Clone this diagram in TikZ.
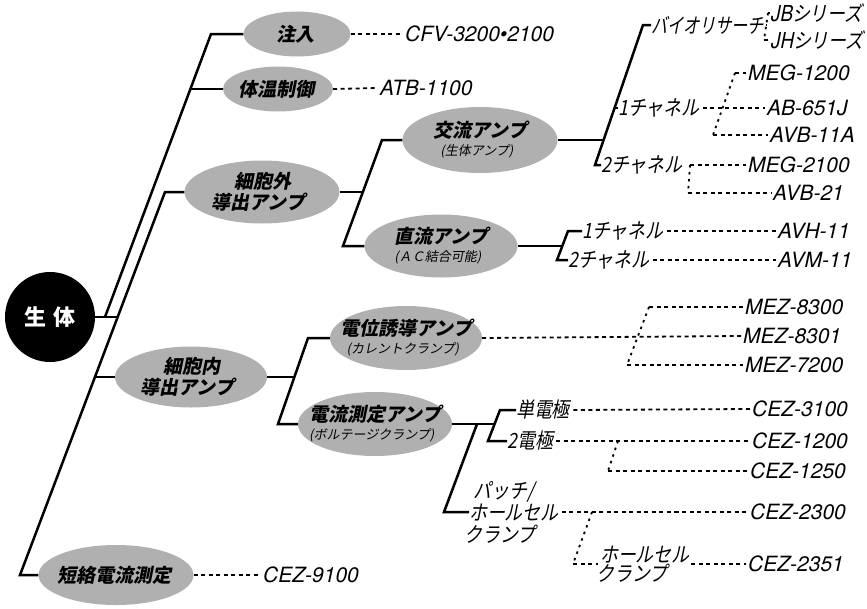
\documentclass[tikz,border=0pt]{standalone}
\usepackage{fontspec}
\setmainfont{TeX Gyre Heros}
\newfontfamily\jp{Noto Sans CJK JP}
\usetikzlibrary{shapes.geometric}
\definecolor{tone}{gray}{0.69}
\tikzset{
    oval/.style={ellipse, fill=tone, inner sep=0pt},
    ovaltext/.style={align=center, inner sep=0pt, xslant=0.2, font=\jp\bfseries\fontsize{19}{21}\selectfont},
    model/.style={anchor=west, inner sep=2pt, font=\itshape\fontsize{21}{24}\selectfont},
    kana/.style={anchor=west, inner sep=2pt, align=left, xslant=0.2, xscale=0.85, font=\jp\fontsize{21}{22}\selectfont},
    tree/.style={line width=2.5pt},
    dots/.style={line width=1.8pt, dash pattern=on 4pt off 3.5pt},
    sparse/.style={line width=1.8pt, dash pattern=on 2.5pt off 4.5pt},
}
\newcommand{\subline}[1]{\\[-3pt]{\mdseries\fontsize{13}{14}\selectfont #1}}

\begin{document}
\begin{tikzpicture}[x=1pt,y=-1pt]
    \useasboundingbox (0,0) rectangle (867,608);

    \node [circle, fill=black, minimum size=90pt, inner sep=0pt, text=white,
        font=\jp\bfseries\fontsize{22}{24}\selectfont] (body) at (50,317) {生\hspace{7pt}体};

    \node [oval, minimum width=107pt, minimum height=45pt] (inj) at (297,34) {};
    \node [oval, minimum width=110pt, minimum height=45pt] (temp) at (278,89) {};
    \node [oval, minimum width=155pt, minimum height=63pt] (extra) at (262,192) {};
    \node [oval, minimum width=152pt, minimum height=61pt] (intra) at (191,377) {};
    \node [oval, minimum width=155pt, minimum height=60pt] (short) at (116,575) {};
    \node [oval, minimum width=155pt, minimum height=66pt] (ac) at (480,140) {};
    \node [oval, minimum width=153pt, minimum height=63pt] (dc) at (441,246) {};
    \node [oval, minimum width=152pt, minimum height=64pt] (cc) at (406,338) {};
    \node [oval, minimum width=154pt, minimum height=64pt] (vc) at (375,424) {};

    \node [ovaltext] (inj-t) at (inj) {注入};
    \node [ovaltext] (temp-t) at (temp) {体温制御};
    \node [ovaltext] (extra-t) at (extra) {細胞外\\導出アンプ};
    \node [ovaltext] (intra-t) at (intra) {細胞内\\導出アンプ};
    \node [ovaltext] (short-t) at (short) {短絡電流測定};
    \node [ovaltext] (ac-t) at (ac) {交流アンプ\subline{(生体アンプ)}};
    \node [ovaltext] (dc-t) at (dc) {直流アンプ\subline{(ＡＣ結合可能)}};
    \node [ovaltext] (cc-t) at (cc) {電位誘導アンプ\subline{(カレントクランプ)}};
    \node [ovaltext] (vc-t) at (vc) {電流測定アンプ\subline{(ボルテージクランプ)}};

    \node [kana, xscale=0.9] (bio) at (651,25) {バイオリサーチ};
    \node [kana] (acone) at (618,108) {1チャネル};
    \node [kana] (actwo) at (601,165) {2チャネル};
    \node [kana] (dcone) at (582,231) {1チャネル};
    \node [kana] (dctwo) at (568,260) {2チャネル};
    \node [kana] (single) at (516,410) {単電極};
    \node [kana] (two) at (507,441) {2電極};
    \node [kana] (patch) at (469,512) {パッチ/\\ホールセル\\クランプ};
    \node [kana, font=\jp\fontsize{21}{18}\selectfont] (hc) at (598,564) {ホールセル\\クランプ};

    \node [model] (cfv) at (403,34) {CFV-3200•2100};
    \node [model] (atb) at (378,88) {ATB-1100};
    \node [kana] (jb) at (770,13) {{\rmfamily\fontsize{22}{22}\selectfont JB}シリーズ};
    \node [kana] (jh) at (770,40) {{\rmfamily\fontsize{22}{22}\selectfont JH}シリーズ};
    \node [model] (meg12) at (746,73) {MEG-1200};
    \node [model] (ab) at (765,108) {AB-651J};
    \node [model] (avb11a) at (768,135) {AVB-11A};
    \node [model] (meg21) at (746,165) {MEG-2100};
    \node [model] (avb21) at (771,193) {AVB-21};
    \node [model] (avh) at (776,231) {AVH-11};
    \node [model] (avm) at (776,260) {AVM-11};
    \node [model] (mez8300) at (743,307) {MEZ-8300};
    \node [model] (mez8301) at (741,336) {MEZ-8301};
    \node [model] (mez7200) at (743,365) {MEZ-7200};
    \node [model] (cez3100) at (750,409) {CEZ-3100};
    \node [model] (cez1200) at (750,441) {CEZ-1200};
    \node [model] (cez1250) at (748,471) {CEZ-1250};
    \node [model] (cez2300) at (748,512) {CEZ-2300};
    \node [model] (cez2351) at (746,564) {CEZ-2351};
    \node [model] (cez9100) at (261,575) {CEZ-9100};

    \coordinate (a1) at (211,34);
    \coordinate (a2) at (105,317);
    \coordinate (a3) at (190,89);
    \coordinate (b1) at (165,192);
    \coordinate (b2) at (20,575);
    \coordinate (b3) at (118,317);
    \coordinate (b4) at (95,377);
    \coordinate (c1) at (382,140);
    \coordinate (c2) at (343,246);
    \coordinate (c3) at (363,192);
    \coordinate (d1) at (308,338);
    \coordinate (d2) at (278,424);
    \coordinate (d3) at (294,377);
    \coordinate (f1) at (643,25);
    \coordinate (f2) at (595,165);
    \coordinate (f3) at (604,140);
    \coordinate (f4) at (614,108);
    \coordinate (g1) at (568,231);
    \coordinate (g2) at (557,260);
    \coordinate (g3) at (562,246);
    \coordinate (h1) at (500,410);
    \coordinate (h2) at (488,441);
    \coordinate (h3) at (495,424);
    \coordinate (e1) at (477,424);
    \coordinate (e2) at (444,512);

    \draw [tree] (inj.west) -- (a1) -- (a2);
    \draw [tree] (temp.west) -- (a3);
    \draw [tree] (body.east) -- (b3);
    \draw [tree] (extra.west) -- (b1) -- (b2) -- (short.west);
    \draw [tree] (intra.west) -- (b4);
    \draw [tree] (ac.west) -- (c1) -- (c2) -- (dc.west);
    \draw [tree] (extra.east) -- (c3);
    \draw [tree] (cc.west) -- (d1) -- (d2) -- (vc.west);
    \draw [tree] (intra.east) -- (d3);
    \draw [tree] (bio.west) -- (f1) -- (f2) -- (actwo.west);
    \draw [tree] (ac.east) -- (f3);
    \draw [tree] (f4) -- (acone.west);
    \draw [tree] (dcone.west) -- (g1) -- (g2) -- (dctwo.west);
    \draw [tree] (dc.east) -- (g3);
    \draw [tree] (single.west) -- (h1) -- (h2) -- (two.west);
    \draw [tree] (vc.east) -- (h3);
    \draw [tree] (e1) -- (e2) -- (patch.west);

    \coordinate (q0) at (766,25);
    \coordinate (q1) at (768,13);
    \coordinate (q2) at (764,40);
    \coordinate (m1) at (735,73);
    \coordinate (m2) at (713,135);
    \coordinate (n1) at (690,165);
    \coordinate (n2) at (688,193);
    \coordinate (r1) at (649,307);
    \coordinate (r2) at (627,365);
    \coordinate (s1) at (618,441);
    \coordinate (s2) at (608,471);
    \coordinate (t1) at (592,512);
    \coordinate (t2) at (573,564);

    \draw [dots] (inj.east) -- (cfv.west);
    \draw [dots] (temp.east) -- (atb.west);
    \draw [dots] (short.east) -- (cez9100.west);

    \draw [dots] (bio.east) -- (q0);
    \draw [sparse] (q1) -- (q2);
    \draw [dots] (q1) -- (jb.west);
    \draw [dots] (q2) -- (jh.west);

    \draw [dots] (acone.east) -- (ab.west);
    \draw [sparse] (m1) -- (m2);
    \draw [dots] (m1) -- (meg12.west);
    \draw [dots] (m2) -- (avb11a.west);

    \draw [dots] (n1) -- (meg21.west);
    \draw [sparse] (n1) -- (n2);
    \draw [dots] (n2) -- (avb21.west);

    \draw [dots] (dcone.east) -- (avh.west);
    \draw [dots] (dctwo.east) -- (avm.west);

    \draw [dots] (cc.east) -- (mez8301.west);
    \draw [sparse] (r1) -- (r2);
    \draw [dots] (r1) -- (mez8300.west);
    \draw [dots] (r2) -- (mez7200.west);

    \draw [dots] (single.east) -- (cez3100.west);
    \draw [dots] (two.east) -- (cez1200.west);
    \draw [sparse] (s1) -- (s2);
    \draw [dots] (s2) -- (cez1250.west);

    \draw [dots] (patch.east) -- (cez2300.west);
    \draw [sparse] (t1) -- (t2);
    \draw [dots] (t2) -- (hc.west);
    \draw [dots] (hc.east) -- (cez2351.west);

    \end{tikzpicture}
\end{document}
